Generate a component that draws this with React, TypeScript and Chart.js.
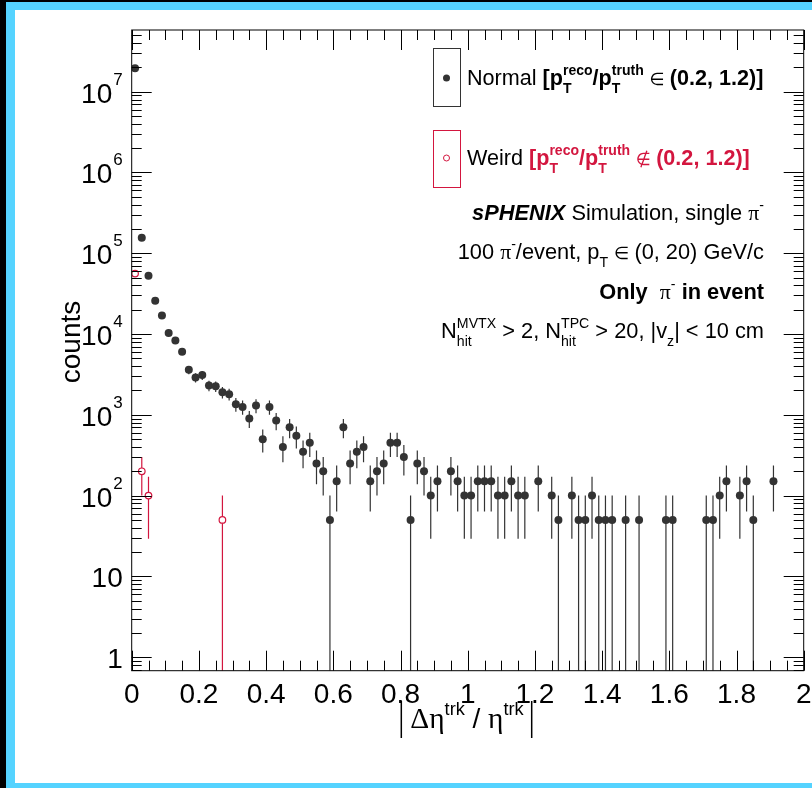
import React, { useEffect, useRef } from 'react';
import { Chart, registerables } from 'chart.js';
Chart.register(...registerables);

// ---------------- data ----------------
const histLow = 0;
const histHigh = 2;
const entryWeight = 50; // each entry carries weight 50 -> error = sqrt(sum w^2)

// |d eta / eta| histogram, 100 bins of 0.02, "Normal" tracks
const normalCounts = [
  19500000, 156000, 52800, 25900, 16900, 10300, 8300, 6050, 3600, 2900,
  3100, 2300, 2250, 1900, 1800, 1350, 1250, 900, 1300, 500,
  1250, 850, 400, 700, 550, 350, 450, 250, 200, 50,
  150, 700, 250, 350, 400, 150, 200, 250, 450, 450,
  300, 50, 250, 200, 100, 150, 0, 200, 150, 100,
  100, 150, 150, 150, 100, 100, 150, 100, 100, 0,
  150, 0, 100, 50, 0, 100, 50, 50, 100, 50,
  50, 50, 0, 50, 0, 50, 0, 0, 0, 50,
  50, 0, 0, 0, 0, 50, 50, 100, 150, 0,
  100, 150, 50, 0, 0, 150, 0, 0, 0, 0,
];

// "Weird" tracks
const weirdCounts = [
  56000, 200, 100, 0, 0, 0, 0, 0, 0, 0,
  0, 0, 0, 50, 0, 0, 0, 0, 0, 0,
  0, 0, 0, 0, 0, 0, 0, 0, 0, 0,
  0, 0, 0, 0, 0, 0, 0, 0, 0, 0,
  0, 0, 0, 0, 0, 0, 0, 0, 0, 0,
  0, 0, 0, 0, 0, 0, 0, 0, 0, 0,
  0, 0, 0, 0, 0, 0, 0, 0, 0, 0,
  0, 0, 0, 0, 0, 0, 0, 0, 0, 0,
  0, 0, 0, 0, 0, 0, 0, 0, 0, 0,
  0, 0, 0, 0, 0, 0, 0, 0, 0, 0,
];

const xTickValues = [0, 0.2, 0.4, 0.6, 0.8, 1, 1.2, 1.4, 1.6, 1.8, 2];
const xTickLabels = ['0', '0.2', '0.4', '0.6', '0.8', '1', '1.2', '1.4', '1.6', '1.8', '2'];
const yTickValues = [1, 10, 1e2, 1e3, 1e4, 1e5, 1e6, 1e7];
const yTickBases = ['1', '10', '10', '10', '10', '10', '10', '10'];
const yTickExps = ['', '', '2', '3', '4', '5', '6', '7'];

const yMin = 0.68;
const yMax = 5.8e7;

// ---------------- styles ----------------
const RED = '#d3163f';
const INK = '#333333';
const FONT = '"Liberation Sans", Arial, Helvetica, sans-serif';
const SYM = '"DejaVu Sans", sans-serif';
const GREEK = '"Liberation Serif", serif';

type Seg = { t?: string; b?: boolean; i?: boolean; c?: string; f?: string; k?: number; sup?: string; sub?: string };

const legendNormal: Seg[] = [
  { t: 'Normal ' },
  { t: '[p', b: true, sub: 'T', sup: 'reco' },
  { t: '/p', b: true, sub: 'T', sup: 'truth' },
  { t: ' \u2208 ', f: SYM, k: 0.8 },
  { t: '(0.2, 1.2)]', b: true },
];
const legendWeird: Seg[] = [
  { t: 'Weird ' },
  { t: '[p', b: true, c: RED, sub: 'T', sup: 'reco' },
  { t: '/p', b: true, c: RED, sub: 'T', sup: 'truth' },
  { t: ' \u2209 ', f: SYM, c: RED, k: 0.8 },
  { t: '(0.2, 1.2)]', b: true, c: RED },
];
const info1: Seg[] = [
  { t: 'sPHENIX', b: true, i: true },
  { t: ' Simulation, single ' },
  { t: '\u03c0', f: GREEK, sup: '-' },
];
const info2: Seg[] = [
  { t: '100 ' },
  { t: '\u03c0', f: GREEK, sup: '-' },
  { t: '/event, p', sub: 'T' },
  { t: ' \u2208 ', f: SYM, k: 0.8 },
  { t: '(0, 20) GeV/c' },
];
const info3: Seg[] = [
  { t: 'Only  ', b: true },
  { t: '\u03c0', f: GREEK, sup: '-' },
  { t: ' in event', b: true },
];
const info4: Seg[] = [
  { t: 'N', sub: 'hit', sup: 'MVTX' },
  { t: ' > 2, N', sub: 'hit', sup: 'TPC' },
  { t: ' > 20, |v', sub: 'z' },
  { t: '| < 10 cm' },
];
const xTitle: Seg[] = [
  { t: '\u0394\u03b7', f: GREEK, k: 1.05, sup: 'trk' },
  { t: ' / ' },
  { t: '\u03b7', f: GREEK, k: 1.05, sup: 'trk' },
];

function fontStr(size: number, b?: boolean, i?: boolean, fam?: string) {
  return `${i ? 'italic ' : ''}${b ? 'bold ' : ''}${size}px ${fam || FONT}`;
}

function measureRich(ctx: CanvasRenderingContext2D, segs: Seg[], size: number) {
  const ss = size * 0.65;
  let total = 0;
  const parts = segs.map((s) => {
    ctx.font = fontStr(size * (s.k || 1), s.b, s.i, s.f);
    const w = s.t ? ctx.measureText(s.t).width : 0;
    ctx.font = fontStr(ss, s.b, false, FONT);
    const sw = Math.max(s.sup ? ctx.measureText(s.sup).width : 0, s.sub ? ctx.measureText(s.sub).width : 0);
    total += w + sw;
    return { w, sw };
  });
  return { total, parts };
}

function drawRich(ctx: CanvasRenderingContext2D, segs: Seg[], x: number, y: number, size: number, align: 'left' | 'right' | 'center', color = '#000') {
  const ss = size * 0.65;
  const { total, parts } = measureRich(ctx, segs, size);
  let cx = align === 'right' ? x - total : align === 'center' ? x - total / 2 : x;
  ctx.save();
  ctx.textAlign = 'left';
  ctx.textBaseline = 'alphabetic';
  segs.forEach((s, k) => {
    ctx.fillStyle = s.c || color;
    if (s.t) {
      ctx.font = fontStr(size * (s.k || 1), s.b, s.i, s.f);
      ctx.fillText(s.t, cx, y);
    }
    cx += parts[k].w;
    ctx.font = fontStr(ss, s.b, false, FONT);
    if (s.sup) ctx.fillText(s.sup, cx, y - size * 0.48);
    if (s.sub) ctx.fillText(s.sub, cx, y + size * 0.36);
    cx += parts[k].sw;
  });
  ctx.restore();
  return total;
}

type P = { x: number; y: number; err: number };
function toPoints(counts: number[]): P[] {
  const w = (histHigh - histLow) / counts.length;
  const out: P[] = [];
  counts.forEach((v, i) => {
    if (v > 0) out.push({ x: histLow + (i + 0.5) * w, y: v, err: Math.sqrt(v * entryWeight) });
  });
  return out;
}

const errorBarPlugin = {
  id: 'errorBars',
  beforeDatasetsDraw(chart: any) {
    const { ctx, chartArea, scales } = chart;
    const xs = scales.x, ys = scales.y;
    ctx.save();
    ctx.beginPath();
    ctx.rect(chartArea.left, chartArea.top, chartArea.right - chartArea.left, chartArea.bottom - chartArea.top);
    ctx.clip();
    chart.data.datasets.forEach((ds: any) => {
      ctx.strokeStyle = ds.errColor;
      ctx.lineWidth = 1.2;
      ds.data.forEach((p: P) => {
        const px = xs.getPixelForValue(p.x);
        const hi = ys.getPixelForValue(p.y + p.err);
        const lo = p.y - p.err > yMin ? ys.getPixelForValue(p.y - p.err) : chartArea.bottom;
        ctx.beginPath();
        ctx.moveTo(px, hi);
        ctx.lineTo(px, lo);
        ctx.stroke();
      });
    });
    ctx.restore();
  },
};

const framePlugin = {
  id: 'rootFrame',
  afterDatasetsDraw(chart: any) {
    const { ctx, chartArea, scales } = chart;
    const xs = scales.x, ys = scales.y;
    const { left, right, top, bottom } = chartArea;
    ctx.save();
    ctx.strokeStyle = '#000';
    ctx.lineWidth = 1;
    ctx.strokeRect(left, top, right - left, bottom - top);

    // x ticks: major 0.2, minor 0.05
    ctx.beginPath();
    for (let j = 0; j <= 40; j++) {
      const v = j * 0.05;
      const px = Math.round(xs.getPixelForValue(v)) + 0.5;
      const len = j % 4 === 0 ? 20 : 10;
      ctx.moveTo(px, bottom);
      ctx.lineTo(px, bottom - len);
      ctx.moveTo(px, top);
      ctx.lineTo(px, top + len);
    }
    // y ticks
    for (let d = -1; d <= 7; d++) {
      for (let m = 1; m <= 9; m++) {
        const v = m * Math.pow(10, d);
        if (v < yMin || v > yMax) continue;
        const py = Math.round(ys.getPixelForValue(v)) + 0.5;
        const len = m === 1 ? 20 : 10;
        ctx.moveTo(left, py);
        ctx.lineTo(left + len, py);
        ctx.moveTo(right, py);
        ctx.lineTo(right - len, py);
      }
    }
    ctx.stroke();

    // tick labels
    ctx.fillStyle = '#000';
    ctx.font = fontStr(28);
    ctx.textBaseline = 'alphabetic';
    ctx.textAlign = 'center';
    xTickValues.forEach((v, k) => {
      ctx.fillText(xTickLabels[k], xs.getPixelForValue(v), bottom + 32);
    });
    yTickValues.forEach((v, k) => {
      const py = ys.getPixelForValue(v);
      const base = yTickBases[k];
      const exp = yTickExps[k];
      ctx.font = fontStr(17);
      const ew = exp ? ctx.measureText(exp).width : 0;
      const xr = left - 9;
      ctx.textAlign = 'right';
      if (exp) ctx.fillText(exp, xr, py - 7);
      ctx.font = fontStr(28);
      ctx.fillText(base, xr - ew - (exp ? 1 : 0), py + 11);
    });

    // axis titles
    ctx.save();
    ctx.translate(80, 342);
    ctx.rotate(-Math.PI / 2);
    ctx.font = fontStr(28);
    ctx.textAlign = 'center';
    ctx.fillText('counts', 0, 0);
    ctx.restore();

    const tw = drawRich(ctx, xTitle, 467, 728, 28, 'center');
    ctx.lineWidth = 1.5;
    ctx.strokeStyle = '#000';
    ctx.beginPath();
    ctx.moveTo(467 - tw / 2 - 9, 701);
    ctx.lineTo(467 - tw / 2 - 9, 738);
    ctx.moveTo(467 + tw / 2 + 8, 701);
    ctx.lineTo(467 + tw / 2 + 8, 738);
    ctx.stroke();

    // legend
    ctx.lineWidth = 1;
    ctx.strokeStyle = INK;
    ctx.strokeRect(433.5, 48.5, 27, 58);
    ctx.strokeStyle = RED;
    ctx.strokeRect(433.5, 130.5, 27, 57);
    ctx.fillStyle = INK;
    ctx.beginPath();
    ctx.arc(446.5, 78, 3.5, 0, Math.PI * 2);
    ctx.fill();
    ctx.strokeStyle = RED;
    ctx.beginPath();
    ctx.arc(446.5, 158, 3, 0, Math.PI * 2);
    ctx.stroke();

    drawRich(ctx, legendNormal, 467, 85, 21.6, 'left');
    drawRich(ctx, legendWeird, 467, 165, 21.6, 'left');

    drawRich(ctx, info1, 764, 220, 21.8, 'right');
    drawRich(ctx, info2, 764, 259, 21.8, 'right');
    drawRich(ctx, info3, 764, 299, 21.8, 'right');
    drawRich(ctx, info4, 764, 338, 21.8, 'right');
    ctx.restore();
  },
};

export default function App() {
  const ref = useRef<HTMLCanvasElement>(null);
  useEffect(() => {
    if (!ref.current) return;
    const chart = new Chart(ref.current, {
      type: 'scatter',
      data: {
        datasets: [
          {
            label: 'Normal',
            data: toPoints(normalCounts) as any,
            pointRadius: 4,
            pointStyle: 'circle',
            backgroundColor: INK,
            borderColor: INK,
            borderWidth: 0,
            errColor: INK,
          } as any,
          {
            label: 'Weird',
            data: toPoints(weirdCounts) as any,
            pointRadius: 3.3,
            pointStyle: 'circle',
            backgroundColor: '#ffffff',
            borderColor: RED,
            borderWidth: 1.2,
            errColor: RED,
          } as any,
        ],
      },
      options: {
        responsive: false,
        animation: false,
        devicePixelRatio: 1,
        layout: { padding: { left: 131.7, top: 30, right: 812 - 803.7, bottom: 788 - 670.7 } },
        plugins: { legend: { display: false }, tooltip: { enabled: false } },
        scales: {
          x: { type: 'linear', min: histLow, max: histHigh, display: false },
          y: { type: 'logarithmic', min: yMin, max: yMax, display: false },
        },
      },
      plugins: [errorBarPlugin, framePlugin],
    });
    return () => chart.destroy();
  }, []);

  return (
    <div style={{ position: 'absolute', left: 0, top: 0, width: 812, height: 788, background: '#000', overflow: 'hidden' }}>
      <div style={{ position: 'absolute', left: 6, top: 2, right: 0, bottom: 0, background: '#55d3ff' }} />
      <div style={{ position: 'absolute', left: 15, top: 10, right: 0, bottom: 5, background: '#ffffff' }} />
      <canvas ref={ref} width={812} height={788} style={{ position: 'absolute', left: 0, top: 0, width: 812, height: 788 }} />
    </div>
  );
}
